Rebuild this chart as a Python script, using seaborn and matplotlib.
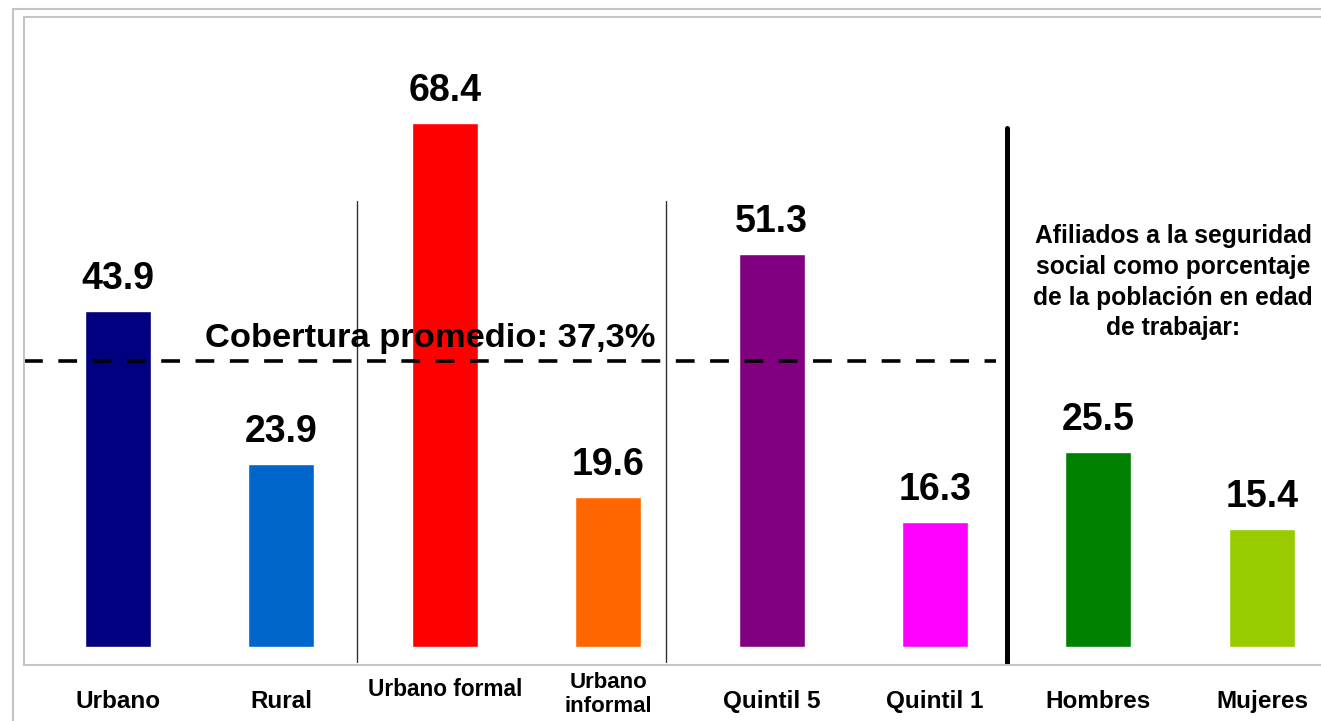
import matplotlib
matplotlib.use("Agg")
import matplotlib.pyplot as plt
import matplotlib.transforms as mtransforms
import seaborn as sns

# data
groups = ["Urbano", "Rural", "Urbano formal", "Urbano\ninformal", "Quintil 5", "Quintil 1",
          "Hombres", "Mujeres"]
values = [43.9, 23.9, 68.4, 19.6, 51.3, 16.3, 25.5, 15.4]
colors = ["#000080", "#0066CC", "#FF0000", "#FF6600", "#800080", "#FF00FF",
          "#008000", "#99CC00"]

promedio = 37.3
promedio_label = "Cobertura promedio: 37,3%"
nota = "Afiliados a la seguridad\nsocial como porcentaje\nde la población en edad\nde trabajar:"

# the two "Urbano formal/informal" labels sit a bit higher and smaller in the original
label_size = {"Urbano formal": 16.3, "Urbano\ninformal": 16.0}
label_lift = {"Urbano formal": 8, "Urbano\ninformal": 5}

sns.set_style("white")
plt.rcParams["font.family"] = ["Liberation Sans", "DejaVu Sans"]
plt.rcParams["text.color"] = "black"
plt.rcParams["xtick.color"] = "black"

frame_col = "#c4c4c4"

fig = plt.figure(figsize=(13.21, 7.21), dpi=100)
# plot frame runs off the right edge like in the original screenshot
ax = fig.add_axes([24 / 1321, 56 / 721, 1316 / 1321, 648 / 721])

# outer border
fig.add_artist(plt.Rectangle((13 / 1321, -0.1), 1.2, 1.0875, transform=fig.transFigure,
                             fill=False, edgecolor=frame_col, lw=1.5))

sns.barplot(x=groups, y=values, hue=groups, palette=colors, width=0.404, saturation=1,
            legend=False, ax=ax)
for cont in ax.containers:
    ax.bar_label(cont, fmt="%.1f", padding=10, fontsize=27, fontweight="bold",
                 color="black")

ax.set_xlim(-0.575, 7.478)
ax.set_ylim(-2.35, 82.2)
ax.set_yticks([])
ax.tick_params(axis="x", length=0, pad=26, labelsize=17.5, labelcolor="black")
for lab in ax.get_xticklabels():
    txt = lab.get_text()
    lab.set_fontweight("bold")
    lab.set_va("center")
    lab.set_linespacing(1.2)
    if txt in label_size:
        lab.set_fontsize(label_size[txt])
        lift = mtransforms.ScaledTranslation(0, label_lift[txt] / 72, fig.dpi_scale_trans)
        lab.set_transform(lab.get_transform() + lift)
for s in ax.spines.values():
    s.set_color(frame_col)
    s.set_linewidth(1.5)
ax.spines["right"].set_visible(False)

# average line and label
ax.hlines(promedio, -0.575, 5.37, color="black", lw=2.6, linestyle=(0, (5.2, 4.3)))
ax.text(1.91, 39.1, promedio_label, ha="center", va="baseline", fontsize=24.8,
        fontweight="bold", color="black", zorder=5)

# group separators
for xs in [1.463, 3.354]:
    ax.axvline(xs, ymin=0.005, ymax=0.716, color="#333333", lw=1.0)
ax.axvline(5.44, ymin=0.003, ymax=0.829, color="black", lw=3.6)

ax.text(6.457, 47.6, nota, ha="center", va="center", fontsize=17.7, fontweight="bold",
        color="black", linespacing=1.35)

fig.savefig("out.png", dpi=100)
